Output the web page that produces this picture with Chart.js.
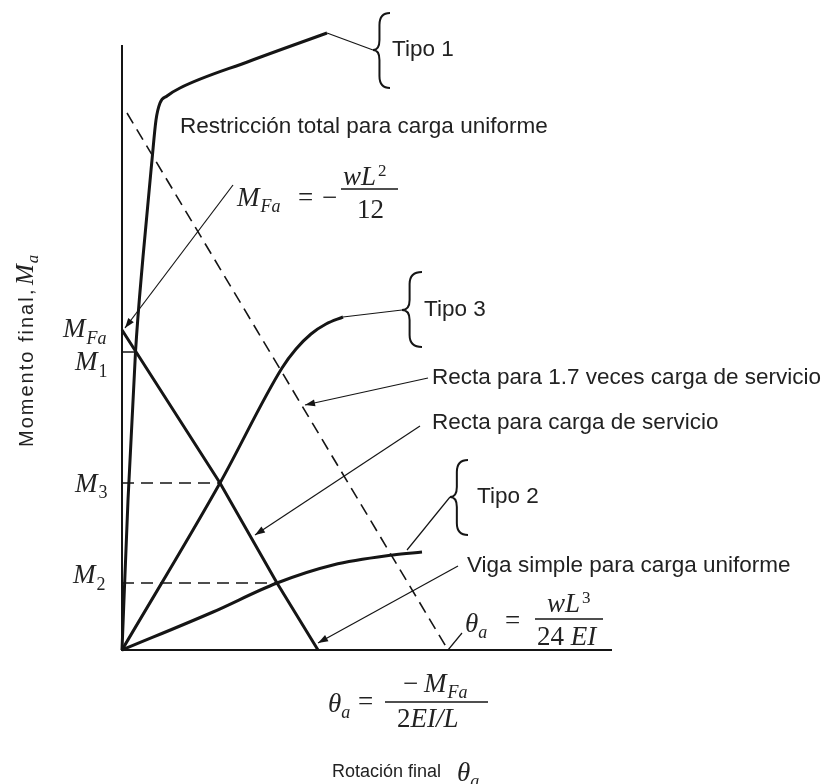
<!DOCTYPE html>
<html>
<head>
<meta charset="utf-8">
<script src="https://cdn.jsdelivr.net/npm/chart.js@4"></script>
<style>
  html, body { margin: 0; background: #fff; }
  #wrap { width: 829px; height: 784px; }
</style>
</head>
<body>
<div id="wrap"><canvas id="chart"></canvas></div>
<script>
// Rotation (x) vs end moment (y), arbitrary units
const tipo1X = [0, 0.6, 1.35, 2.1, 3.0, 3.4, 3.8, 4.5, 5.8, 12.8, 20.5];
const tipo1Y = [0, 15, 29.8, 39.3, 49, 53, 54.7, 55.4, 56.2, 58.9, 61.7];

const tipo3X = [0, 9.8, 16.0, 17.4, 18.9, 20.4, 22.1];
const tipo3Y = [0, 16.7, 28.2, 30.1, 31.6, 32.6, 33.3];

const tipo2X = [0, 9.1, 15.5, 21.1, 27.1, 30.0];
const tipo2Y = [0, 3.8, 6.7, 8.5, 9.5, 9.8];

// beam line for service load: from M_Fa down to theta = -M_Fa / (2EI/L)
const servicioX = [0, 9.8, 15.5, 19.6];
const servicioY = [32, 16.7, 6.7, 0];

// beam line for 1.7 x service load
const factoradaX = [0.5, 32.6];
const factoradaY = [53.7, 0];

// reference moments
const M_FA = 32;
const M1 = 29.8;
const M3 = 16.7;
const M2 = 6.7;
const M1_X = 1.35;   // crossing with Tipo 1
const M3_X = 9.8;    // crossing with Tipo 3
const M2_X = 15.5;   // crossing with Tipo 2

const X_MAX = 49;
const Y_MAX = 62;
const Y_AXIS_TOP = 60.5;

const SANS = '"Liberation Sans", Arial, sans-serif';
const SERIF = '"Liberation Serif", "Times New Roman", serif';
const INK = '#151515';

const pts = (xs, ys) => xs.map((x, i) => ({ x: x, y: ys[i] }));

function lineSet(data, width, dash, smooth) {
  return {
    data: data,
    showLine: true,
    borderColor: INK,
    borderWidth: width,
    borderDash: dash || [],
    cubicInterpolationMode: smooth ? 'monotone' : 'default',
    tension: 0,
    pointRadius: 0,
    fill: false,
    clip: false
  };
}

// leaders: [from, to, arrowhead]
const leaders = [
  [[20.5, 61.7], [25.1, 60.0], false],
  [[11.1, 46.5], [0.3, 32.2], true],
  [[22.1, 33.3], [28.0, 34.0], false],
  [[30.6, 27.2], [18.3, 24.5], true],
  [[29.8, 22.4], [13.3, 11.5], true],
  [[32.8, 15.3], [28.5, 10.0], false],
  [[33.6, 8.4], [19.6, 0.7], true],
  [[34.0, 1.7], [32.6, 0.0], false]
];

// braces: tip point, top y, bottom y, width in px
const braces = [
  [[25.1, 60.0], 63.7, 56.2, 17],
  [[28.0, 34.0], 37.8, 30.3, 20],
  [[32.8, 15.3], 19.0, 11.5, 18]
];

const notes = [
  ['Tipo 1', [27.0, 60.0]],
  ['Restricción total para carga uniforme', [5.8, 52.3]],
  ['Tipo 3', [30.2, 34.0]],
  ['Recta para 1.7 veces carga de servicio', [31.0, 27.2]],
  ['Recta para carga de servicio', [31.0, 22.7]],
  ['Tipo 2', [35.5, 15.3]],
  ['Viga simple para carga uniforme', [34.5, 8.4]]
];

function put(ctx, text, x, y, size, italic) {
  ctx.font = (italic ? 'italic ' : '') + size + 'px ' + SERIF;
  ctx.fillText(text, x, y);
  return x + ctx.measureText(text).width;
}

function bar(ctx, x1, x2, y) {
  ctx.beginPath();
  ctx.lineWidth = 1.3;
  ctx.moveTo(x1, y);
  ctx.lineTo(x2, y);
  ctx.stroke();
}

function arrowLine(ctx, x1, y1, x2, y2, head) {
  ctx.beginPath();
  ctx.lineWidth = 1.2;
  ctx.moveTo(x1, y1);
  ctx.lineTo(x2, y2);
  ctx.stroke();
  if (!head) return;
  const a = Math.atan2(y2 - y1, x2 - x1);
  const len = 10, half = 3.5;
  ctx.beginPath();
  ctx.moveTo(x2, y2);
  ctx.lineTo(x2 - len * Math.cos(a) + half * Math.sin(a), y2 - len * Math.sin(a) - half * Math.cos(a));
  ctx.lineTo(x2 - len * Math.cos(a) - half * Math.sin(a), y2 - len * Math.sin(a) + half * Math.cos(a));
  ctx.closePath();
  ctx.fill();
}

function brace(ctx, xt, yt, yTop, yBot, w) {
  const xm = xt + w * 0.38;
  const xr = xt + w;
  ctx.beginPath();
  ctx.lineWidth = 2;
  ctx.moveTo(xr, yTop);
  ctx.quadraticCurveTo(xm, yTop, xm, yTop + 12);
  ctx.lineTo(xm, yt - 10);
  ctx.quadraticCurveTo(xm, yt, xt, yt);
  ctx.quadraticCurveTo(xm, yt, xm, yt + 10);
  ctx.lineTo(xm, yBot - 12);
  ctx.quadraticCurveTo(xm, yBot, xr, yBot);
  ctx.stroke();
}

const annotations = {
  id: 'annotations',
  beforeDatasetsDraw(chart) {
    const { ctx, scales: { x, y } } = chart;
    const X = v => x.getPixelForValue(v);
    const Y = v => y.getPixelForValue(v);
    ctx.save();
    ctx.strokeStyle = INK;
    ctx.lineWidth = 2;
    ctx.beginPath();
    ctx.moveTo(X(0), Y(Y_AXIS_TOP));
    ctx.lineTo(X(0), Y(0));
    ctx.lineTo(X(X_MAX), Y(0));
    ctx.stroke();
    ctx.restore();
  },
  afterDraw(chart) {
    const { ctx, scales: { x, y } } = chart;
    const X = v => x.getPixelForValue(v);
    const Y = v => y.getPixelForValue(v);
    ctx.save();
    ctx.strokeStyle = INK;
    ctx.fillStyle = INK;

    leaders.forEach(([f, t, head]) => arrowLine(ctx, X(f[0]), Y(f[1]), X(t[0]), Y(t[1]), head));
    braces.forEach(([tip, top, bot, w]) => brace(ctx, X(tip[0]), Y(tip[1]), Y(top), Y(bot), w));

    ctx.fillStyle = '#222';
    ctx.textBaseline = 'middle';
    ctx.textAlign = 'left';
    ctx.font = '22.5px ' + SANS;
    notes.forEach(([t, p]) => ctx.fillText(t, X(p[0]), Y(p[1])));

    ctx.textBaseline = 'alphabetic';

    // M_Fa = -wL^2/12
    let x0 = X(11.5), y0 = Y(44.4);
    let cx = put(ctx, 'M', x0, y0, 27, true);
    put(ctx, 'Fa', cx + 1, y0 + 6, 18, true);
    put(ctx, '=', x0 + 61, y0, 27, false);
    put(ctx, '\u2212', x0 + 85, y0, 27, false);
    bar(ctx, x0 + 104, x0 + 161, y0 - 17);
    cx = put(ctx, 'wL', x0 + 106, y0 - 21, 27, true);
    put(ctx, '2', cx + 2, y0 - 30, 17, false);
    put(ctx, '12', x0 + 120, y0 + 12, 27, false);

    // theta_a = wL^3 / 24 EI
    x0 = X(34.3); y0 = Y(1.8);
    cx = put(ctx, '\u03b8', x0, y0, 27, true);
    put(ctx, 'a', cx, y0 + 6, 18, true);
    put(ctx, '=', x0 + 40, y0 - 3, 27, false);
    bar(ctx, x0 + 70, x0 + 138, y0 - 13);
    cx = put(ctx, 'wL', x0 + 82, y0 - 20, 27, true);
    put(ctx, '3', cx + 2, y0 - 29, 17, false);
    cx = put(ctx, '24 ', x0 + 72, y0 + 13, 27, false);
    put(ctx, 'EI', cx, y0 + 13, 27, true);

    // theta_a = -M_Fa / (2EI/L)
    x0 = X(20.6); y0 = Y(-6.2);
    cx = put(ctx, '\u03b8', x0, y0, 27, true);
    put(ctx, 'a', cx, y0 + 6, 18, true);
    put(ctx, '=', x0 + 30, y0 - 2, 27, false);
    bar(ctx, x0 + 57, x0 + 160, y0 - 10);
    put(ctx, '\u2212', x0 + 75, y0 - 20, 27, false);
    cx = put(ctx, 'M', x0 + 96, y0 - 20, 27, true);
    put(ctx, 'Fa', cx + 1, y0 - 14, 18, true);
    cx = put(ctx, '2', x0 + 69, y0 + 15, 27, false);
    put(ctx, 'EI/L', cx, y0 + 15, 27, true);

    // axis titles
    ctx.font = '18px ' + SANS;
    ctx.textBaseline = 'middle';
    ctx.fillText('Rotación final', X(21.0), Y(-12.2));
    ctx.textBaseline = 'alphabetic';
    cx = put(ctx, '\u03b8', X(33.5), Y(-12.2) + 9, 27, true);
    put(ctx, 'a', cx, Y(-12.2) + 15, 18, true);

    ctx.save();
    ctx.translate(33, 447);
    ctx.rotate(-Math.PI / 2);
    ctx.font = '20px ' + SANS;
    ctx.letterSpacing = '2px';
    ctx.fillText('Momento final', 0, 0);
    ctx.letterSpacing = '0px';
    ctx.fillText(',', 152, 0);
    cx = put(ctx, 'M', 162, 0, 25, true);
    put(ctx, 'a', cx + 1, 5, 17, true);
    ctx.restore();

    // moment labels on the vertical axis
    cx = put(ctx, 'M', X(-5.9), Y(M_FA) + 7, 27, true);
    put(ctx, 'Fa', cx + 1, Y(M_FA) + 14, 18, true);
    cx = put(ctx, 'M', X(-4.7), Y(M1) + 18, 27, true);
    put(ctx, '1', cx + 1, Y(M1) + 25, 18, false);
    cx = put(ctx, 'M', X(-4.7), Y(M3) + 9, 27, true);
    put(ctx, '3', cx + 1, Y(M3) + 15, 18, false);
    cx = put(ctx, 'M', X(-4.9), Y(M2), 27, true);
    put(ctx, '2', cx + 1, Y(M2) + 7, 18, false);

    ctx.restore();
  }
};

new Chart(document.getElementById('chart'), {
  type: 'scatter',
  data: {
    datasets: [
      lineSet(pts(tipo1X, tipo1Y), 3, null, true),
      lineSet(pts(tipo3X, tipo3Y), 3, null, true),
      lineSet(pts(tipo2X, tipo2Y), 3, null, true),
      lineSet(pts(servicioX, servicioY), 3),
      lineSet(pts(factoradaX, factoradaY), 1.6, [12, 7]),
      lineSet(pts([0, M3_X], [M3, M3]), 1.6, [12, 7]),
      lineSet(pts([0, M2_X], [M2, M2]), 1.6, [12, 7]),
      lineSet(pts([0, M1_X], [M1, M1]), 1.5)
    ]
  },
  options: {
    responsive: true,
    maintainAspectRatio: false,
    animation: false,
    layout: { padding: { left: 122, right: 217, top: 30, bottom: 134 } },
    scales: {
      x: { type: 'linear', min: 0, max: X_MAX, display: false },
      y: { type: 'linear', min: 0, max: Y_MAX, display: false }
    },
    plugins: {
      legend: { display: false },
      tooltip: { enabled: false }
    }
  },
  plugins: [annotations]
});
</script>
</body>
</html>
